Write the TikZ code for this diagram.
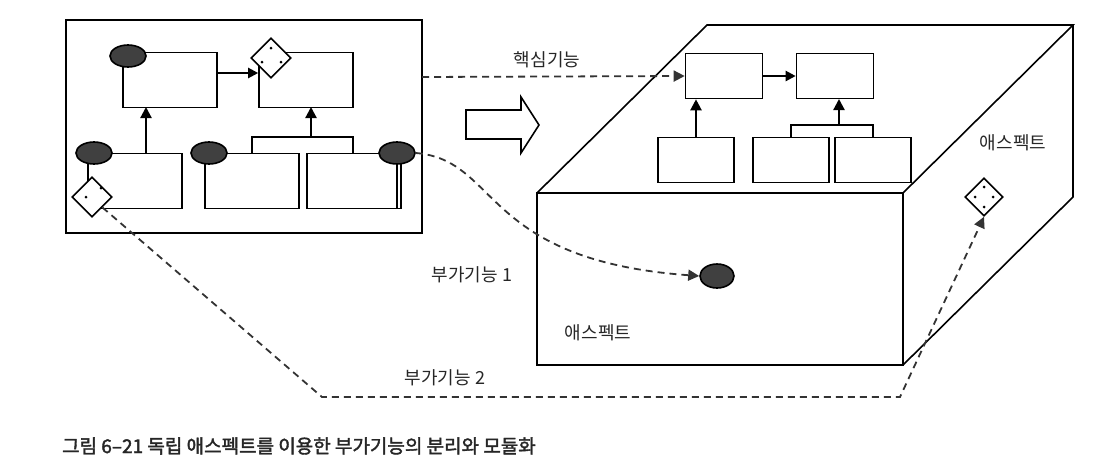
\documentclass[tikz,border=0pt]{standalone}
\usepackage{fontspec}
\newfontfamily\kor{Noto Sans CJK KR}
\newfontfamily\korb[FakeBold=2]{Noto Sans CJK KR}
\usetikzlibrary{positioning,arrows.meta,shapes.geometric}
\tikzset{
  every picture/.style={line width=1.6pt},
  cls/.style={rectangle,draw=black,line width=1.6pt,fill=white,inner sep=0pt},
  blob/.style={ellipse,draw=black,fill=black!75,minimum width=36pt,minimum height=22pt,inner sep=0pt},
  asp/.style={diamond,draw=black,line width=1.6pt,fill=white,minimum size=40pt,inner sep=0pt},
  lbl/.style={font=\kor\fontsize{18}{21}\selectfont,text=black!85},
  inh/.style={-{Triangle[length=11pt,width=11pt]},line width=2.2pt},
  dep/.style={-{Triangle[length=10pt,width=10pt]},line width=2.2pt},
  weave/.style={-{Triangle[length=11pt,width=11pt]},line width=1.8pt,dash pattern=on 7pt off 5pt,draw=black!80}
}
\newcommand\aspdot[1]{\fill (#1) circle (1.5pt);}
\begin{document}
\begin{tikzpicture}[x=1pt,y=-1pt]
  \useasboundingbox (0,0) rectangle (1120,464);
  % left: tangled classes
  \draw (66,20) rectangle (422,233);
  \node[cls,minimum width=94pt,minimum height=55pt] (c1) at (170,80) {};
  \node[cls,minimum width=94pt,minimum height=55pt] (c2) at (306,80) {};
  \node[cls,minimum width=94pt,minimum height=55pt] (c3) at (135,181) {};
  \node[cls,minimum width=94pt,minimum height=55pt] (c4) at (252,181) {};
  \node[cls,minimum width=94pt,minimum height=55pt] (c5) at (354,181) {};
  \draw[dep] (c1.east|-0,73) -- (c2.west|-0,73);
  \draw[inh] (146,153) -- (146,107);
  \draw (252,153) -- (252,137) -- (353,137) -- (353,153);
  \draw[inh] (311,137) -- (311,107);
  \draw (88,153) -- (88,197);
  \draw (397,153) -- (397,208);
  \node[blob] (e1) at (128,56) {};
  \node[asp] (d1) at (271,58) {};
  \aspdot{271,48}\aspdot{262,62}\aspdot{281,62}
  \node[blob] (e3) at (94,153) {};
  \node[blob] (e4) at (209,153) {};
  \node[blob] (e5) at (397,153) {};
  \node[asp] (d3) at (92,197) {};
  \aspdot{101,188}\aspdot{86,197}
  % shift arrow
  \draw (466,110) -- (521,110) -- (521,97) -- (539,125) -- (521,153) -- (521,139) -- (466,139) -- cycle;
  % right: separated aspect box
  \draw (537,193) rectangle (903,365);
  \draw (537,193) -- (707,25) -- (1073,25) -- (903,193);
  \draw (1073,25) -- (1073,197) -- (903,365);
  \node[cls,minimum width=77pt,minimum height=45pt] (a1) at (724,76) {};
  \node[cls,minimum width=77pt,minimum height=45pt] (a2) at (835,76) {};
  \node[cls,minimum width=76pt,minimum height=45pt] (a3) at (696,160) {};
  \node[cls,minimum width=76pt,minimum height=45pt] (a4) at (791,160) {};
  \node[cls,minimum width=76pt,minimum height=45pt] (a5) at (873,160) {};
  \draw[dep] (a1.east) -- (a2.west);
  \draw[inh] (a3.north) -- (a3.north|-a1.south);
  \draw (a4.north) -- (791,125) -- (873,125) -- (a5.north);
  \draw[inh] (839,125) -- (839,99);
  \node[blob,minimum width=34pt,minimum height=24pt] (e6) at (717,276) {};
  \node[asp,minimum size=38pt] (d6) at (984,197) {};
  \aspdot{984,187}\aspdot{975,197}\aspdot{993,197}\aspdot{984,207}
  \node[lbl] (t1) at (1013,143) {애스펙트};
  \node[lbl] (t2) at (598,333) {애스펙트};
  % weaving connectors
  \coordinate (p1) at (422,77);
  \draw[weave] (p1) -- (a1.west);
  \node[lbl] (k1) at (547,60) {핵심기능};
  \draw[weave] (e5.east) .. controls (500,160) and (480,260) .. (e6.west);
  \node[lbl] (k2) at (472,275) {부가기능 1};
  \coordinate (q1) at (322,397);
  \coordinate (q2) at (900,397);
  \draw[weave] (d3.south east) -- (q1) -- (q2) -- (d6.south);
  \node[lbl] (k3) at (445,378) {부가기능 2};
  \node[font=\korb\fontsize{19}{22}\selectfont,anchor=west,text=black!85] (cap) at (58,446) {그림 6–21 독립 애스펙트를 이용한 부가기능의 분리와 모듈화};
\end{tikzpicture}
\end{document}
